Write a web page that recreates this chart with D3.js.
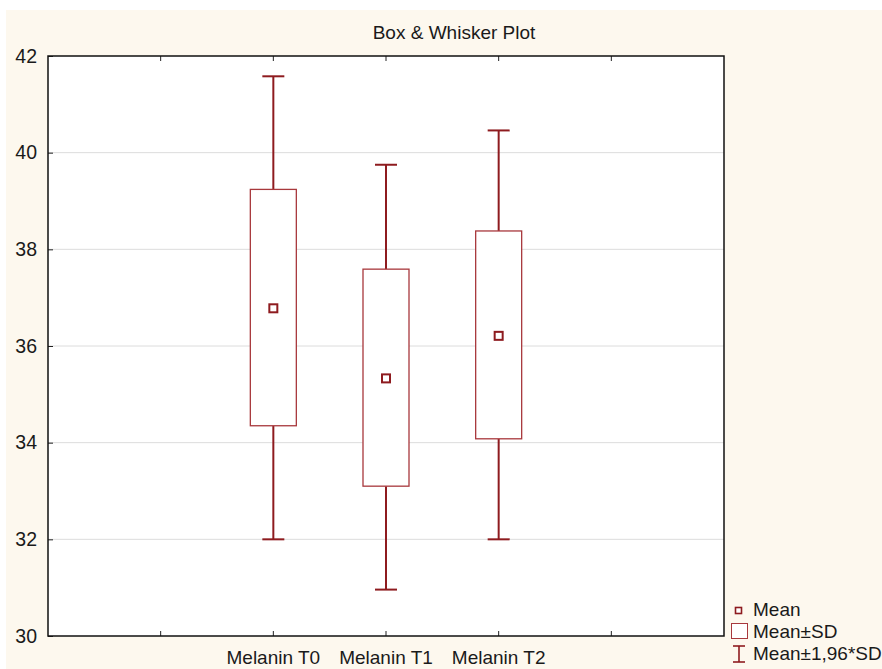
<!DOCTYPE html>
<html>
<head>
<meta charset="utf-8">
<script src="https://cdn.jsdelivr.net/npm/d3@7/dist/d3.min.js"></script>
<style>
  html, body { margin: 0; padding: 0; background: #ffffff; }
  svg { display: block; font-family: "Liberation Sans", Arial, sans-serif; }
</style>
</head>
<body>
<svg id="chart" width="882" height="669"></svg>
<script>
// Melanin measurements at three time points: mean, mean±SD, mean±1.96*SD
const categories = ["Melanin T0", "Melanin T1", "Melanin T2"];
const means  = [36.78, 35.33, 36.21];
const sdLow  = [34.35, 33.10, 34.08];
const sdHigh = [39.24, 37.59, 38.38];
const ciLow  = [32.00, 30.96, 32.00];
const ciHigh = [41.58, 39.75, 40.46];
const yTicks = [30, 32, 34, 36, 38, 40, 42];
const legendLabels = ["Mean", "Mean\u00B1SD", "Mean\u00B11,96*SD"];

const svg = d3.select("#chart");
const W = 882, H = 669;
const m = { left: 48, top: 56, right: 724, bottom: 636 };
const red = "#8e1b1f";
const boxRed = "#a8383c";

// page background
svg.append("rect").attr("x", 6).attr("y", 10).attr("width", W - 6).attr("height", H - 10)
  .attr("fill", "#fdf8ee");

// category positions on a 0..6 slot axis, categories in slots 2..4
const x = d3.scaleLinear().domain([0, 6]).range([m.left, m.right]);
const slot = i => x(i + 2);
const y = d3.scaleLinear().domain([30, 42]).range([m.bottom, m.top]);

svg.append("rect").attr("x", m.left).attr("y", m.top)
  .attr("width", m.right - m.left).attr("height", m.bottom - m.top).attr("fill", "#ffffff");

// horizontal gridlines
svg.append("g").selectAll("line").data(yTicks.filter(t => t > 30 && t < 42)).join("line")
  .attr("x1", m.left).attr("x2", m.right)
  .attr("y1", d => y(d)).attr("y2", d => y(d))
  .attr("stroke", "#dcdcdc").attr("stroke-width", 1);

// y axis labels + inner ticks
const yAxis = d3.axisLeft(y).tickValues(yTicks).tickFormat(d3.format("d")).tickSizeInner(-5).tickSizeOuter(0).tickPadding(11);
const gy = svg.append("g").attr("transform", `translate(${m.left},0)`).call(yAxis);
gy.select(".domain").remove();
gy.selectAll(".tick line").attr("stroke", "#222");
gy.selectAll("text").attr("font-size", 19.5).attr("fill", "#1a1a1a")
  .attr("font-family", "Liberation Sans, Arial, sans-serif");

// bottom/top axis ticks (inward) and category labels
const xTickVals = [1, 2, 3, 4, 5];
svg.append("g").selectAll("line").data(xTickVals).join("line")
  .attr("x1", d => x(d)).attr("x2", d => x(d))
  .attr("y1", m.bottom).attr("y2", m.bottom - 5).attr("stroke", "#222");
svg.append("g").selectAll("line").data(xTickVals).join("line")
  .attr("x1", d => x(d)).attr("x2", d => x(d))
  .attr("y1", m.top).attr("y2", m.top + 5).attr("stroke", "#222");
svg.append("g").selectAll("text").data(categories).join("text")
  .attr("x", (d, i) => slot(i)).attr("y", 664)
  .attr("text-anchor", "middle").attr("font-size", 19).attr("fill", "#1a1a1a")
  .text(d => d);

// whiskers (mean ± 1.96*SD)
const g = svg.append("g");
categories.forEach((c, i) => {
  const cx = slot(i);
  g.append("line").attr("x1", cx).attr("x2", cx).attr("y1", y(ciHigh[i])).attr("y2", y(sdHigh[i]))
    .attr("stroke", red).attr("stroke-width", 2);
  g.append("line").attr("x1", cx).attr("x2", cx).attr("y1", y(sdLow[i])).attr("y2", y(ciLow[i]))
    .attr("stroke", red).attr("stroke-width", 2);
  [ciHigh[i], ciLow[i]].forEach(v => {
    g.append("line").attr("x1", cx - 11).attr("x2", cx + 11).attr("y1", y(v)).attr("y2", y(v))
      .attr("stroke", red).attr("stroke-width", 2);
  });
  // box (mean ± SD)
  g.append("rect").attr("x", cx - 23).attr("width", 46)
    .attr("y", y(sdHigh[i])).attr("height", y(sdLow[i]) - y(sdHigh[i]))
    .attr("fill", "#ffffff").attr("stroke", boxRed).attr("stroke-width", 1.3);
  // mean marker
  g.append("rect").attr("x", cx - 4).attr("y", y(means[i]) - 4).attr("width", 8).attr("height", 8)
    .attr("fill", "#ffffff").attr("stroke", red).attr("stroke-width", 2);
});

// plot frame
svg.append("rect").attr("x", m.left).attr("y", m.top)
  .attr("width", m.right - m.left).attr("height", m.bottom - m.top)
  .attr("fill", "none").attr("stroke", "#111").attr("stroke-width", 1.5);

// title
svg.append("text").attr("x", 454).attr("y", 39).attr("text-anchor", "middle")
  .attr("font-size", 19).attr("fill", "#1a1a1a").text("Box & Whisker Plot");

// legend
const lg = svg.append("g");
lg.append("rect").attr("x", 735.5).attr("y", 607.5).attr("width", 6).attr("height", 6)
  .attr("fill", "#ffffff").attr("stroke", red).attr("stroke-width", 1.6);
lg.append("rect").attr("x", 731.5).attr("y", 623.5).attr("width", 16).attr("height", 15)
  .attr("fill", "#ffffff").attr("stroke", boxRed).attr("stroke-width", 1);
lg.append("line").attr("x1", 739).attr("x2", 739).attr("y1", 646).attr("y2", 662).attr("stroke", red).attr("stroke-width", 1.6);
lg.append("line").attr("x1", 733).attr("x2", 745).attr("y1", 646).attr("y2", 646).attr("stroke", red).attr("stroke-width", 1.6);
lg.append("line").attr("x1", 733).attr("x2", 745).attr("y1", 662).attr("y2", 662).attr("stroke", red).attr("stroke-width", 1.6);
lg.selectAll("text").data(legendLabels).join("text")
  .attr("x", 753).attr("y", (d, i) => 616 + i * 22)
  .attr("font-size", 19).attr("fill", "#1a1a1a").text(d => d);
</script>
</body>
</html>
